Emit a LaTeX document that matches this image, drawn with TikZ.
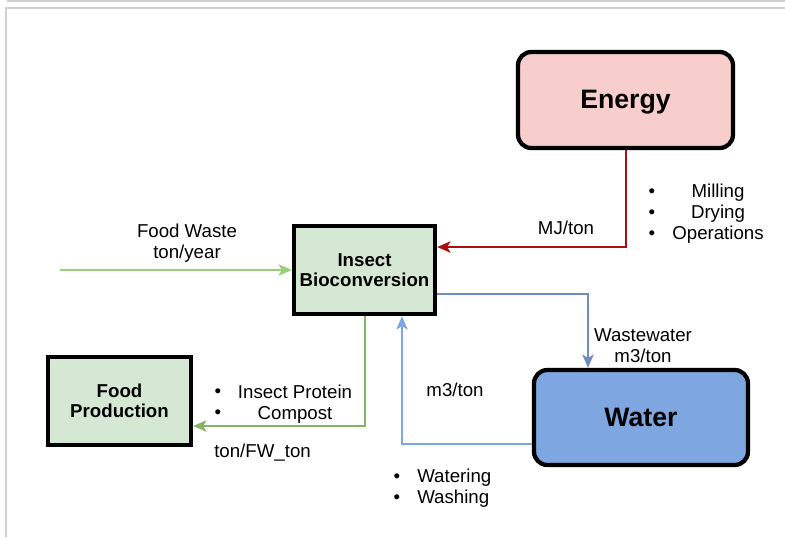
\documentclass[tikz,border=0pt]{standalone}
\usepackage{fontspec}
\setmainfont{Liberation Sans}
\usetikzlibrary{arrows.meta}
\definecolor{energyfill}{HTML}{F8CECC}
\definecolor{greenfill}{HTML}{D5E8D4}
\definecolor{waterfill}{HTML}{7EA6E0}
\definecolor{energyline}{HTML}{A80F0F}
\definecolor{wasteline}{HTML}{97D077}
\definecolor{protline}{HTML}{82B366}
\definecolor{wwline}{HTML}{6C8EBF}
\definecolor{useline}{HTML}{7EA6E0}
\definecolor{framegray}{HTML}{D0D0D0}
\tikzset{
  block/.style={draw=black, line width=3.2pt, fill=greenfill, minimum width=105.75pt,
    minimum height=66pt, inner sep=0pt, align=center,
    font=\fontsize{14}{15}\selectfont\bfseries},
  bigblock/.style={block, rounded corners=10pt, minimum width=161.25pt,
    minimum height=72pt, font=\fontsize{20}{24}\selectfont\bfseries},
  lbl/.style={inner sep=0pt, align=center, yshift=-2pt,
    font=\fontsize{14}{15.75}\selectfont},
  flow/.style={line width=1.5pt, -{Stealth[length=10pt,width=8.5pt,inset=2.5pt]}},
}

\begin{document}
\begin{tikzpicture}[x=0.75pt,y=-0.75pt]
\useasboundingbox (0,0) rectangle (785,537);
% screenshot frame
\draw[framegray, line width=1.5pt] (7,0.75) -- (785,0.75);
\draw[framegray, line width=1.5pt] (785,7.5) -- (6,7.5) -- (6,537);

% blocks
\node[bigblock, fill=energyfill, text depth=1pt] (energy) at (625.5,100) {Energy};
\node[block] (insect) at (364.5,270) {Insect\\Bioconversion};
\node[block, minimum width=107.25pt] (food) at (119.5,401) {Food\\Production};
\node[bigblock, fill=waterfill, minimum width=160.5pt, minimum height=71.25pt]
  (water) at (641,417.5) {Water};
\coordinate (fwsrc) at (60,270);

% flows
\draw[flow, energyline] (energy.south) |- ([yshift=17.25pt]insect.east);
\draw[flow, wasteline] (fwsrc) -- (insect.west);
\draw[flow, wwline] ([yshift=-18pt]insect.east) -| ([xshift=-39.75pt]water.north);
\draw[flow, useline] ([yshift=-19.5pt]water.west) -| ([xshift=28.125pt]insect.south);
\draw[flow, protline] (insect.south) |- ([yshift=-18.75pt]food.east);

% labels
\node[lbl] (mj) at (566,225) {MJ/ton};
\node[lbl] (enbul) at (652,211) {•\\•\\•};
\node[lbl] (enuse) at (718,211) {Milling\\Drying\\Operations};
\node[lbl] (fwlbl) at (187,240.5) {Food Waste\\ton/year};
\node[lbl] (wwlbl) at (643,343) {Wastewater\\m3/ton};
\node[lbl] (m3in) at (455,387) {m3/ton};
\node[lbl] (prbul) at (218,401) {•\\•};
\node[lbl] (prlist) at (295,401) {Insect Protein\\Compost};
\node[lbl, anchor=west] (fwton) at (214,450) {ton/FW\_ton};
\node[lbl] (wabul) at (397,485.5) {•\\•};
\node[lbl, anchor=west, align=left] (walist) at (417,485.5) {Watering\\Washing};
\end{tikzpicture}
\end{document}
